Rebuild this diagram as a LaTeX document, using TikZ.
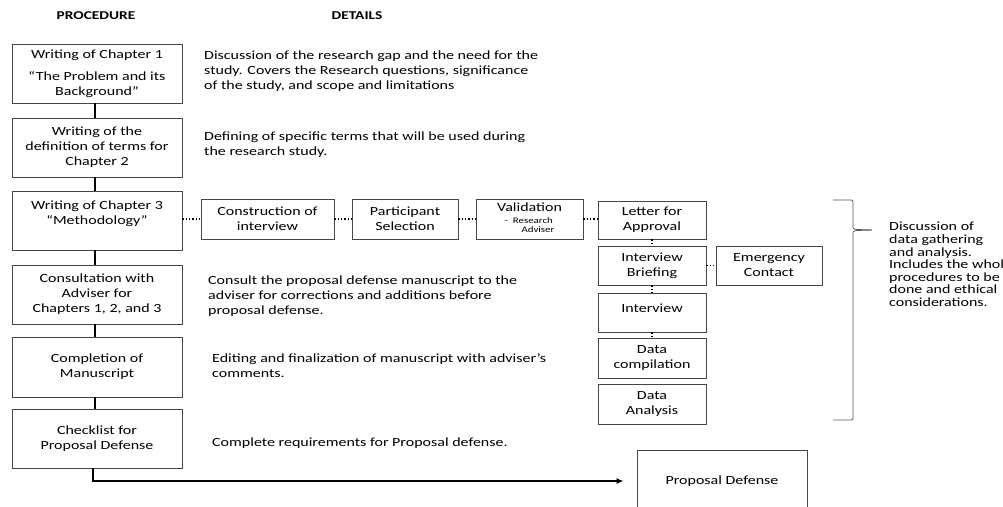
\documentclass[tikz,border=0pt]{standalone}
\usepackage{fontspec}
\setmainfont{Carlito}[FakeStretch=1.28]
\usetikzlibrary{arrows.meta}
\begin{document}
\begin{tikzpicture}[x=1pt,y=-1pt,
  box/.style={draw=gray!55!black, line width=0.8pt, inner sep=0pt, align=center,
    font=\fontsize{12.5}{15}\selectfont, fill=white},
  detail/.style={anchor=west, align=left, inner sep=0pt, font=\fontsize{12.5}{15}\selectfont},
  head/.style={font=\fontsize{12}{13}\selectfont\bfseries, inner sep=0pt},
  thickline/.style={line width=2.6pt, black},
  dots/.style={dotted, line width=1.3pt, black}]
\useasboundingbox (0,0) rectangle (1003,506);
\clip (0,0) rectangle (1003,506);
\fill[white] (0,0) rectangle (1003,506);

% headers
\node[head] (hp) at (96,16) {PROCEDURE};
\node[head] (hd) at (357,16) {DETAILS};

% procedure boxes
\node[box, minimum width=170pt, minimum height=59pt] (b1) at (97,73.5)
  {Writing of Chapter 1\\[7pt]“The Problem and its\\Background”};
\node[box, minimum width=170pt, minimum height=59pt] (b2) at (97,147.5)
  {Writing of the\\definition of terms for\\Chapter 2};
\node[box, minimum width=170pt, minimum height=59pt] (b3) at (97,220.5)
  {Writing of Chapter 3\\“Methodology”\\ \mbox{}};
\node[box, minimum width=170pt, minimum height=59pt] (b4) at (97,294.5)
  {Consultation with\\Adviser for\\Chapters 1, 2, and 3};
\node[box, minimum width=170pt, minimum height=60pt] (b5) at (97,367)
  {Completion of\\Manuscript};
\node[box, minimum width=170pt, minimum height=59pt] (b6) at (97,438.5)
  {Checklist for\\Proposal Defense};
\node[box, minimum width=170pt, minimum height=62pt] (pd) at (722,481)
  {Proposal Defense};

\draw[thickline] ([xshift=-2pt]b1.south) -- ([xshift=-2pt]b2.north);
\draw[thickline] ([xshift=-2pt]b2.south) -- ([xshift=-2pt]b3.north);
\draw[thickline] ([xshift=-2pt]b3.south) -- ([xshift=-2pt]b4.north);
\draw[thickline] ([xshift=-2pt]b4.south) -- ([xshift=-2pt]b5.north);
\draw[thickline] ([xshift=-2pt]b5.south) -- ([xshift=-2pt]b6.north);
\draw[line width=1.8pt, -{Latex[length=7pt,width=6pt]}] ([xshift=-4pt]b6.south) |- ([xshift=-13pt]pd.west);

% details
\node[detail] (d1) at (204,71.5) {Discussion of the research gap and the need for the\\study. Covers the Research questions, significance\\of the study, and scope and limitations};
\node[detail] (d2) at (204,145) {Defining of specific terms that will be used during\\the research study.};
\node[detail] (d4) at (208,296) {Consult the proposal defense manuscript to the\\adviser for corrections and additions before\\proposal defense.};
\node[detail] (d5) at (212,365.5) {Editing and finalization of manuscript with adviser’s\\comments.};
\node[detail] (d6) at (212,443) {Complete requirements for Proposal defense.};

% methodology row
\node[box, minimum width=133pt, minimum height=40pt] (m1) at (267.5,219) {Construction of\\interview};
\node[box, minimum width=106pt, minimum height=40pt] (m2) at (405,219) {Participant\\Selection};
\node[box, minimum width=107pt, minimum height=40pt] (m3) at (529.5,219)
  {Validation\\[-3pt]{\fontsize{8.5}{10}\selectfont\begin{tabular}[t]{@{}l@{}}-\hspace{5pt}Research\\[-1pt]\hspace{17pt}Adviser\end{tabular}}};
\node[box, minimum width=108pt, minimum height=38pt] (m4) at (652,220) {Letter for\\Approval};
\node[box, minimum width=108pt, minimum height=39pt] (m5) at (652,265.5) {Interview\\Briefing};
\node[box, minimum width=106pt, minimum height=39pt] (m6) at (769,265.5) {Emergency\\Contact};
\node[box, minimum width=108pt, minimum height=39pt] (m7) at (652,312.5) {Interview\\[-6pt] \mbox{}};
\node[box, minimum width=108pt, minimum height=40pt] (m8) at (652,358) {Data\\compilation};
\node[box, minimum width=108pt, minimum height=40pt] (m9) at (652,404) {Data\\Analysis};

\draw[dots] (b3.east |- m1.west) -- (m1.west);
\draw[dots] (m1) -- (m2);
\draw[dots] (m2) -- (m3);
\draw[dots] (m3.east) -- (m3.east -| m4.west);
\draw[dots] (m4) -- (m5);
\draw[dots] (m5) -- (m6);
\draw[dots] (m5) -- (m7);
\draw[dots] (m7) -- (m8);

% brace
\coordinate (bt) at (833,200);
\coordinate (bb) at (833,420);
\coordinate (tip) at (872,230);
\draw[gray!70!black, line width=0.8pt]
  (bt) -- (849,200) .. controls (853,200) .. (853,204) -- (853,225)
  .. controls (853,229) .. (857,229.5) -- (tip);
\draw[gray!70!black, line width=0.8pt]
  (bb) -- (849,420) .. controls (853,420) .. (853,416) -- (853,235)
  .. controls (853,231) .. (857,230.5) -- (tip);
\node[detail, font=\fontsize{12.5}{12.6}\selectfont] (dr) at (889,264.5)
  {Discussion of\\data gathering\\and analysis.\\Includes the whole\\procedures to be\\done and ethical\\considerations.};
\end{tikzpicture}
\end{document}
